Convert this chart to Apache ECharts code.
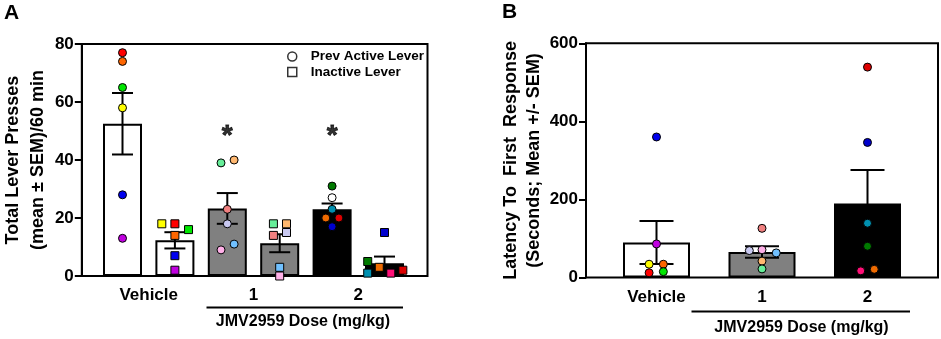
<!DOCTYPE html>
<html>
<head>
<meta charset="utf-8">
<script src="https://cdn.jsdelivr.net/npm/echarts@6/dist/echarts.min.js"></script>
<style>
  html, body { margin: 0; padding: 0; background: #fff; }
  #main { width: 941px; height: 339px; }
</style>
</head>
<body>
<div id="main"></div>
<script>
// ---- data ----
const doseLabels = ['Vehicle', '1', '2'];

// panel A: 6 bars (active / inactive lever per dose)
const barsA = ['Veh active', 'Veh inactive', 'D1 active', 'D1 inactive', 'D2 active', 'D2 inactive'];
const meanA = [52.5, 12.3, 23.3, 11.3, 23.0, 4.4];
const semA = [10.6, 2.8, 5.3, 3.1, 2.0, 2.3];
const pointsA = [
  [77, 74, 65, 58, 28, 13],
  [18, 18, 16, 14, 7, 2],
  [39, 40, 23, 18, 9, 11],
  [18, 18, 14, 15, 3, 0],
  [31, 27, 23, 20, 20, 17],
  [5, 1, 3, 1, 2, 15]
];
const jitterA = [
  [0, 0, 0, 0, 0, 0],
  [-0.25, 0, 0.26, 0, 0, 0],
  [-0.12, 0.13, 0, 0, -0.12, 0.13],
  [-0.12, 0.13, -0.12, 0.13, 0, 0],
  [0, 0, 0, -0.12, 0.13, 0],
  [-0.32, -0.32, -0.1, 0.12, 0.35, 0]
];
const starBarsA = [2, 4];
const starLevel = 48.3;

// panel B: latency to first response
const meanB = [89.5, 65.3, 189.7];
const semB = [55, 15, 86];
const pointsB = [
  [360, 86, 34, 34, 12, 15],
  [126, 69, 71, 63, 42, 22],
  [539, 346, 139, 80, 17, 21]
];
const jitterB = [
  [0, 0, -0.07, 0.065, -0.07, 0.065],
  [0, -0.12, 0, 0.135, 0, 0],
  [0, 0, 0, 0, -0.064, 0.064]
];

// ---- styles ----
const FONT = '"Liberation Sans", Arial, sans-serif';
const barFillA = ['#ffffff', '#ffffff', '#808080', '#808080', '#000000', '#000000'];
const barFillB = ['#ffffff', '#808080', '#000000'];
const dotColorsA = [
  ['#ff0000', '#ff6600', '#00e600', '#ffff00', '#0000ee', '#c000e0'],
  ['#ffff00', '#ff0000', '#00e600', '#ff6600', '#0000ee', '#c000e0'],
  ['#66ee99', '#ffb870', '#f08080', '#c8c8f0', '#ffb0e8', '#70c0ff'],
  ['#66ee99', '#ffb870', '#f08080', '#c8c8f0', '#70c0ff', '#ffb0e8'],
  ['#007a00', '#ffffff', '#0090b0', '#ee6a00', '#dd0000', '#0000cc'],
  ['#007a00', '#0090b0', '#ee6a00', '#ff1077', '#dd0000', '#0000cc']
];
const dotColorsB = [
  ['#0000ee', '#c000e0', '#ffff00', '#ff6600', '#ff0000', '#00e600'],
  ['#f08080', '#c8c8f0', '#ffb0e8', '#70c0ff', '#ffb870', '#66ee99'],
  ['#dd0000', '#0000cc', '#0090b0', '#007a00', '#ff1077', '#ee6a00']
];

function errorBars(capHalf) {
  return function (params, api) {
    const x = api.value(0), m = api.value(1), s = api.value(2);
    const hi = api.coord([x, m + s]);
    const lo = api.coord([x, m - s]);
    const style = { stroke: '#000', lineWidth: 2 };
    return {
      type: 'group',
      children: [
        { type: 'line', shape: { x1: hi[0], y1: hi[1], x2: lo[0], y2: lo[1] }, style: style },
        { type: 'line', shape: { x1: hi[0] - capHalf, y1: hi[1], x2: hi[0] + capHalf, y2: hi[1] }, style: style },
        { type: 'line', shape: { x1: lo[0] - capHalf, y1: lo[1], x2: lo[0] + capHalf, y2: lo[1] }, style: style }
      ]
    };
  };
}

function dots(points, jitter, colors) {
  const out = [];
  points.forEach((grp, i) => {
    grp.forEach((v, j) => {
      out.push({ value: [i + jitter[i][j], v], itemStyle: { color: colors[i][j] } });
    });
  });
  return out;
}

const activeA = dots(pointsA, jitterA, dotColorsA).filter((d, k) => Math.floor(k / 6) % 2 === 0);
const inactiveA = dots(pointsA, jitterA, dotColorsA).filter((d, k) => Math.floor(k / 6) % 2 === 1);

const labelFont = { fontFamily: FONT, fontWeight: 'bold', fontSize: 17, color: '#000' };
const nameFont = { fontFamily: FONT, fontWeight: 'bold', fontSize: 18, color: '#000' };
const axisBlack = { lineStyle: { color: '#000', width: 2 } };

const chart = echarts.init(document.getElementById('main'), null, { renderer: 'canvas' });

chart.setOption({
  animation: false,
  backgroundColor: '#fff',
  textStyle: { fontFamily: FONT },
  grid: [
    { left: 79, right: 513.5, top: 44, bottom: 63, show: true, borderColor: '#000', borderWidth: 2, backgroundColor: 'transparent' },
    { left: 96.3, right: 530.3, top: 44, bottom: 63 },
    { left: 586, right: 3, top: 43.3, bottom: 61.5, show: true, borderColor: '#000', borderWidth: 2, backgroundColor: 'transparent' },
    { left: 603.75, right: 20.75, top: 43.3, bottom: 61.5 }
  ],
  xAxis: [
    { gridIndex: 0, type: 'value', show: false, min: 0, max: 1, position: 'bottom' },
    { gridIndex: 1, type: 'category', data: barsA, show: false, position: 'bottom' },
    {
      gridIndex: 1, type: 'category', data: doseLabels, position: 'bottom',
      axisLine: { show: false },
      axisTick: { alignWithLabel: true, length: 5, lineStyle: { color: '#000', width: 2 } },
      axisLabel: Object.assign({ margin: 11 }, labelFont)
    },
    { gridIndex: 1, type: 'value', show: false, min: -0.5, max: 5.5, position: 'bottom' },
    { gridIndex: 2, type: 'value', show: false, min: 0, max: 1, position: 'bottom' },
    {
      gridIndex: 3, type: 'category', data: doseLabels, position: 'bottom',
      axisLine: { show: false },
      axisTick: { alignWithLabel: true, length: 5, lineStyle: { color: '#000', width: 2 } },
      axisLabel: Object.assign({ margin: 11 }, labelFont)
    },
    { gridIndex: 3, type: 'value', show: false, min: -0.5, max: 2.5, position: 'bottom' }
  ],
  yAxis: [
    {
      gridIndex: 0, type: 'value', min: 0, max: 80, interval: 20,
      splitLine: { show: false },
      axisLine: Object.assign({ show: true }, axisBlack),
      axisTick: { show: true, length: 7, lineStyle: { color: '#000', width: 2 } },
      axisLabel: Object.assign({ margin: 8 }, labelFont),
      name: 'Total Lever Presses\n(mean \u00b1 SEM)/60 min',
      nameLocation: 'middle', nameRotate: 90, nameGap: 29,
      nameTextStyle: Object.assign({ lineHeight: 25 }, nameFont)
    },
    { gridIndex: 1, type: 'value', min: 0, max: 80, show: false },
    {
      gridIndex: 2, type: 'value', min: 0, max: 600, interval: 200,
      splitLine: { show: false },
      axisLine: Object.assign({ show: true }, axisBlack),
      axisTick: { show: true, length: 7, lineStyle: { color: '#000', width: 2 } },
      axisLabel: Object.assign({ margin: 8 }, labelFont),
      name: 'Latency To  First  Response\n(Seconds; Mean +/- SEM)',
      nameLocation: 'middle', nameRotate: 90, nameGap: 39,
      nameTextStyle: Object.assign({ lineHeight: 23 }, nameFont)
    },
    { gridIndex: 3, type: 'value', min: 0, max: 600, show: false }
  ],
  legend: {
    left: 287, top: 49.5, orient: 'vertical', padding: 0, itemGap: 1.5,
    itemWidth: 9, itemHeight: 9, selectedMode: false,
    itemStyle: { color: '#fff', borderColor: '#000', borderWidth: 1.5 },
    textStyle: { fontFamily: FONT, fontWeight: 'bold', fontSize: 13.5, color: '#000', padding: [0, 0, 0, 9] },
    data: [{ name: 'Prev Active Lever', icon: 'circle' }, { name: 'Inactive Lever', icon: 'rect' }]
  },
  series: [
    {
      type: 'bar', xAxisIndex: 1, yAxisIndex: 1, barWidth: 39, z: 2,
      data: meanA.map((v, i) => ({ value: v, itemStyle: { color: barFillA[i], borderColor: '#000', borderWidth: 2 } }))
    },
    {
      type: 'custom', xAxisIndex: 3, yAxisIndex: 1, z: 3,
      renderItem: errorBars(10.5),
      data: meanA.map((m, i) => [i, m, semA[i]])
    },
    {
      type: 'scatter', xAxisIndex: 3, yAxisIndex: 1, z: 4, symbol: 'circle', symbolSize: 8,
      itemStyle: { borderColor: '#000', borderWidth: 1, opacity: 1 },
      data: activeA
    },
    {
      type: 'scatter', xAxisIndex: 3, yAxisIndex: 1, z: 4, symbol: 'rect', symbolSize: 8,
      itemStyle: { borderColor: '#000', borderWidth: 1, opacity: 1 },
      data: inactiveA
    },
    {
      type: 'scatter', xAxisIndex: 3, yAxisIndex: 1, z: 5, symbolSize: 0,
      label: { show: true, position: 'inside', formatter: '*', fontFamily: FONT, fontWeight: 'bold', fontSize: 28, color: '#000', textBorderColor: '#000', textBorderWidth: 0.8 },
      data: starBarsA.map(i => [i, starLevel])
    },
    {
      name: 'Prev Active Lever', type: 'scatter', xAxisIndex: 3, yAxisIndex: 1, symbol: 'circle',
      itemStyle: { color: '#fff', borderColor: '#000', borderWidth: 1.5 }, data: []
    },
    {
      name: 'Inactive Lever', type: 'scatter', xAxisIndex: 3, yAxisIndex: 1, symbol: 'rect',
      itemStyle: { color: '#fff', borderColor: '#000', borderWidth: 1.5 }, data: []
    },
    {
      type: 'bar', xAxisIndex: 5, yAxisIndex: 3, barWidth: 67, z: 2,
      data: meanB.map((v, i) => ({ value: v, itemStyle: { color: barFillB[i], borderColor: '#000', borderWidth: 2 } }))
    },
    {
      type: 'custom', xAxisIndex: 6, yAxisIndex: 3, z: 3,
      renderItem: errorBars(17),
      data: meanB.map((m, i) => [i, m, semB[i]])
    },
    {
      type: 'scatter', xAxisIndex: 6, yAxisIndex: 3, z: 4, symbol: 'circle', symbolSize: 8,
      itemStyle: { borderColor: '#000', borderWidth: 1, opacity: 1 },
      data: dots(pointsB, jitterB, dotColorsB)
    }
  ],
  graphic: [
    { type: 'text', left: 4, top: 3, style: { text: 'A', font: 'bold 21px ' + FONT, fill: '#000' } },
    { type: 'text', left: 502, top: 2, style: { text: 'B', font: 'bold 21px ' + FONT, fill: '#000' } },
    { type: 'line', shape: { x1: 206.5, y1: 307.5, x2: 403, y2: 307.5 }, style: { stroke: '#000', lineWidth: 2 } },
    { type: 'text', x: 303, y: 322, style: { text: 'JMV2959 Dose (mg/kg)', font: 'bold 16px ' + FONT, fill: '#000', textAlign: 'center', textVerticalAlign: 'middle' } },
    { type: 'line', shape: { x1: 691.5, y1: 311.5, x2: 910, y2: 311.5 }, style: { stroke: '#000', lineWidth: 2 } },
    { type: 'text', x: 801.5, y: 327.5, style: { text: 'JMV2959 Dose (mg/kg)', font: 'bold 16px ' + FONT, fill: '#000', textAlign: 'center', textVerticalAlign: 'middle' } }
  ]
});
</script>
</body>
</html>
